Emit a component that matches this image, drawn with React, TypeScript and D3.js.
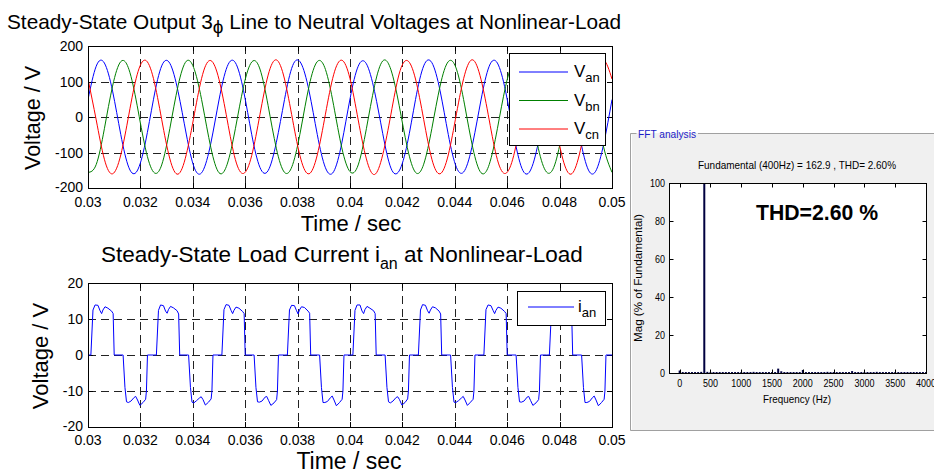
import React, { useEffect, useRef } from 'react';
import * as d3 from 'd3';

// sample times (ms) of the phase voltages, 1/8 period apart
const voltTime = [
  30, 30.3125, 30.625, 30.9375, 31.25, 31.5625, 31.875, 32.1875,
  32.5, 32.8125, 33.125, 33.4375, 33.75, 34.0625, 34.375, 34.6875,
  35, 35.3125, 35.625, 35.9375, 36.25, 36.5625, 36.875, 37.1875,
  37.5, 37.8125, 38.125, 38.4375, 38.75, 39.0625, 39.375, 39.6875,
  40, 40.3125, 40.625, 40.9375, 41.25, 41.5625, 41.875, 42.1875,
  42.5, 42.8125, 43.125, 43.4375, 43.75, 44.0625, 44.375, 44.6875,
  45, 45.3125, 45.625, 45.9375, 46.25, 46.5625, 46.875, 47.1875,
  47.5, 47.8125, 48.125, 48.4375, 48.75, 49.0625, 49.375, 49.6875,
  50
];
const vanValues = [
  49, 143, 152, 73, -49, -143, -152, -73,
  50, 144, 151, 72, -48, -144, -153, -74,
  48, 142, 153, 74, -50, -142, -151, -72,
  49, 145, 152, 73, -49, -143, -154, -73,
  51, 143, 150, 72, -47, -144, -152, -75,
  49, 144, 153, 74, -49, -142, -151, -73,
  48, 143, 152, 73, -50, -145, -152, -72,
  50, 142, 151, 73, -48, -143, -153, -74,
  49
];
const vbnValues = [
  -156, -134, -33, 87, 156, 134, 33, -87,
  -155, -135, -32, 88, 157, 133, 34, -86,
  -157, -133, -33, 86, 155, 135, 32, -88,
  -156, -134, -34, 87, 156, 134, 33, -87,
  -154, -135, -33, 88, 158, 133, 33, -86,
  -156, -133, -32, 87, 156, 135, 34, -87,
  -157, -134, -33, 86, 155, 134, 33, -88,
  -155, -135, -34, 87, 157, 133, 32, -87,
  -156
];
const vcnValues = [
  107, -8, -119, -160, -107, 8, 119, 160,
  108, -7, -118, -161, -106, 9, 120, 159,
  106, -8, -120, -159, -108, 7, 118, 161,
  107, -9, -119, -160, -107, 8, 119, 160,
  108, -8, -118, -162, -106, 8, 121, 159,
  107, -7, -119, -160, -107, 9, 119, 161,
  106, -8, -120, -159, -108, 8, 118, 160,
  107, -8, -119, -161, -107, 7, 119, 160,
  107
];

// load current: start of each period (ms), point times inside a period (ms) and values per period
const ianCycleStart = [30, 32.5, 35, 37.5, 40, 42.5, 45, 47.5];
const ianOffset = [
  0, 0.11, 0.19, 0.27, 0.38, 0.46, 0.52, 0.57, 0.65, 0.76, 0.9, 0.96, 1.0,
  1.34, 1.41, 1.47, 1.54, 1.64, 1.76, 1.82, 1.89, 1.98, 2.1, 2.2, 2.23, 2.27
];
const ianCycles = [
  [0, 0, 12.5, 13.9, 13.8, 12.3, 11.5, 12.5, 13.4, 13.0, 12.2, 11.5, 0, 0, -9, -13, -13.2, -12.8, -11.8, -11.5, -12.5, -14, -13.2, -12.3, -10, 0],
  [0, 0, 12.4, 13.9, 13.7, 12.2, 11.6, 12.6, 13.5, 13.1, 12.3, 11.4, 0, 0, -9, -13.1, -13.3, -12.7, -11.9, -11.6, -12.4, -13.9, -13.1, -12.2, -10, 0],
  [0, 0, 12.6, 14.0, 13.8, 12.4, 11.5, 12.4, 13.3, 13.0, 12.1, 11.5, 0, 0, -9, -13, -13.1, -12.8, -11.7, -11.5, -12.6, -14, -13.3, -12.4, -10, 0],
  [0, 0, 12.5, 13.8, 13.7, 12.3, 11.4, 12.5, 13.4, 13.2, 12.2, 11.6, 0, 0, -9, -13.2, -13.2, -12.9, -11.8, -11.4, -12.5, -14.1, -13.2, -12.3, -10, 0],
  [0, 0, 12.4, 13.9, 13.9, 12.2, 11.5, 12.6, 13.5, 13.0, 12.3, 11.5, 0, 0, -9, -13, -13.3, -12.8, -11.8, -11.6, -12.4, -13.9, -13.2, -12.2, -10, 0],
  [0, 0, 12.5, 14.0, 13.8, 12.3, 11.6, 12.5, 13.4, 13.1, 12.2, 11.4, 0, 0, -9, -13.1, -13.2, -12.7, -11.9, -11.5, -12.5, -14, -13.1, -12.3, -10, 0],
  [0, 0, 12.6, 13.9, 13.7, 12.4, 11.5, 12.4, 13.3, 13.0, 12.1, 11.5, 0, 0, -9, -13, -13.1, -12.8, -11.7, -11.5, -12.6, -14, -13.3, -12.4, -10, 0],
  [0, 0, 12.5, 13.8, 13.8, 12.3, 11.5, 12.5, 13.4, 13.1, 12.2, 11.6, 0, 0, -9, -13.2, -13.2, -12.9, -11.8, -11.4, -12.5, -14.1, -13.2, -12.3, -10, 0]
];
const ianEndTime = 50;
const ianEndValue = 0;

// FFT spectrum, % of fundamental
const fftFreq = [
  0, 50, 100, 150, 200, 250, 300, 350, 400, 450, 500, 550, 600, 650, 700, 750,
  800, 850, 900, 950, 1000, 1050, 1100, 1150, 1200, 1250, 1300, 1350, 1400, 1450, 1500, 1550,
  1600, 1650, 1700, 1750, 1800, 1850, 1900, 1950, 2000, 2050, 2100, 2150, 2200, 2250, 2300, 2350,
  2400, 2450, 2500, 2550, 2600, 2650, 2700, 2750, 2800, 2850, 2900, 2950, 3000, 3050, 3100, 3150,
  3200, 3250, 3300, 3350, 3400, 3450, 3500, 3550, 3600, 3650, 3700, 3750, 3800, 3850, 3900, 3950,
  4000
];
const fftMag = [
  1.3, 0.5, 0.5, 0.5, 0.5, 0.5, 0.5, 0.6, 100, 0.6, 0.5, 0.5, 0.5, 0.5, 0.5, 0.5,
  0.5, 0.5, 0.5, 0.5, 0.5, 0.5, 0.5, 0.5, 0.6, 0.5, 0.5, 0.5, 0.5, 0.5, 0.5, 0.5,
  2.3, 0.9, 0.5, 0.5, 0.5, 0.5, 0.5, 0.5, 1.6, 0.5, 0.5, 0.5, 0.5, 0.5, 0.5, 0.5,
  0.6, 0.5, 0.5, 0.5, 0.5, 0.5, 0.5, 0.5, 1.0, 0.5, 0.5, 0.5, 0.5, 0.5, 0.5, 0.5,
  0.6, 0.5, 0.5, 0.5, 0.5, 0.5, 0.5, 0.5, 0.5, 0.5, 0.5, 0.5, 0.5, 0.5, 0.5, 0.5,
  0.5
];

const timeTicks = [30, 32, 34, 36, 38, 40, 42, 44, 46, 48, 50];
const timeLabels = ['0.03', '0.032', '0.034', '0.036', '0.038', '0.04', '0.042', '0.044', '0.046', '0.048', '0.05'];
const voltTicks = [-200, -100, 0, 100, 200];
const currTicks = [-20, -10, 0, 10, 20];
const freqTicks = [0, 500, 1000, 1500, 2000, 2500, 3000, 3500, 4000];
const magTicks = [0, 20, 40, 60, 80, 100];

const FONT = 'Liberation Sans, Arial, sans-serif';

function App() {
  const ref = useRef<SVGSVGElement>(null);

  useEffect(() => {
    const svg = d3.select(ref.current);
    svg.selectAll('*').remove();

    svg.append('rect').attr('width', 934).attr('height', 474).attr('fill', '#fff');

    // MATLAB style box: dashed grid, ticks inside on every side
    function frame(x: any, y: any, xt: number[], yt: number[], xl: string[], yl: string[], xLabelY: number) {
      const [x0, x1] = x.range();
      const [y0, y1] = y.range(); // y0 bottom, y1 top
      const g = svg.append('g');
      xt.slice(1, -1).forEach(t => {
        g.append('line').attr('x1', Math.round(x(t)) + 0.5).attr('x2', Math.round(x(t)) + 0.5)
          .attr('y1', y1).attr('y2', y0).attr('stroke', '#222').attr('stroke-dasharray', '8,5');
      });
      yt.slice(1, -1).forEach(t => {
        g.append('line').attr('y1', Math.round(y(t)) + 0.5).attr('y2', Math.round(y(t)) + 0.5)
          .attr('x1', x0).attr('x2', x1).attr('stroke', '#222').attr('stroke-dasharray', '8,5');
      });
      xt.forEach((t, i) => {
        const px = Math.round(x(t)) + 0.5;
        g.append('line').attr('x1', px).attr('x2', px).attr('y1', y0).attr('y2', y0 - 5).attr('stroke', '#000');
        g.append('line').attr('x1', px).attr('x2', px).attr('y1', y1).attr('y2', y1 + 5).attr('stroke', '#000');
        g.append('text').attr('x', x(t)).attr('y', xLabelY).attr('text-anchor', 'middle')
          .attr('font-family', FONT).attr('font-size', 14).text(xl[i]);
      });
      yt.forEach((t, i) => {
        const py = Math.round(y(t)) + 0.5;
        g.append('line').attr('y1', py).attr('y2', py).attr('x1', x0).attr('x2', x0 + 5).attr('stroke', '#000');
        g.append('line').attr('y1', py).attr('y2', py).attr('x1', x1).attr('x2', x1 - 5).attr('stroke', '#000');
        g.append('text').attr('x', x0 - 5).attr('y', y(t) + (i === 0 ? 3.5 : 5)).attr('text-anchor', 'end')
          .attr('font-family', FONT).attr('font-size', 14).text(yl[i]);
      });
      return g;
    }

    function border(x: any, y: any) {
      const [x0, x1] = x.range();
      const [y0, y1] = y.range();
      svg.append('rect').attr('x', x0 + 0.5).attr('y', y1 + 0.5).attr('width', x1 - x0).attr('height', y0 - y1)
        .attr('fill', 'none').attr('stroke', '#000');
    }

    // text with a subscript, optionally followed by more text on the base line
    function subText(x: number, y: number, main: string, sub: string, size: number, subSize: number, after = '') {
      const t = svg.append('text').attr('x', x).attr('y', y).attr('font-family', FONT).attr('font-size', size);
      t.append('tspan').text(main);
      t.append('tspan').attr('font-size', subSize).attr('dy', size * 0.3).text(sub);
      if (after) t.append('tspan').attr('dy', -size * 0.3).text(after);
      return t;
    }

    // ---------- top: phase voltages ----------
    const xTop = d3.scaleLinear().domain([30, 50]).range([88, 612]);
    const yTop = d3.scaleLinear().domain([-200, 200]).range([188, 46]);
    frame(xTop, yTop, timeTicks, voltTicks, timeLabels, voltTicks.map(String), 206.5);

    const vLine = d3.line<number>()
      .x((_, i) => xTop(voltTime[i]))
      .y(d => yTop(d))
      .curve(d3.curveNatural);
    const clipTop = svg.append('clipPath').attr('id', 'clipTop');
    clipTop.append('rect').attr('x', 88).attr('y', 46).attr('width', 524).attr('height', 142);
    const series = [
      { vals: vanValues, color: '#0000ff', sub: 'an' },
      { vals: vbnValues, color: '#008000', sub: 'bn' },
      { vals: vcnValues, color: '#ff0000', sub: 'cn' }
    ];
    series.forEach(s => {
      svg.append('path').attr('d', vLine(s.vals)).attr('fill', 'none').attr('stroke', s.color)
        .attr('stroke-width', 1).attr('clip-path', 'url(#clipTop)');
    });
    border(xTop, yTop);

    // legend
    svg.append('rect').attr('x', 509.5).attr('y', 53.5).attr('width', 96).attr('height', 92)
      .attr('fill', '#fff').attr('stroke', '#000');
    series.forEach((s, i) => {
      const ly = 72 + i * 28.5;
      svg.append('line').attr('x1', 519).attr('x2', 568).attr('y1', ly).attr('y2', ly).attr('stroke', s.color);
      subText(574, ly + 5, 'V', s.sub, 17, 13);
    });

    // title
    const t1 = svg.append('text').attr('x', 7).attr('y', 29).attr('font-family', FONT).attr('font-size', 20.8);
    t1.append('tspan').text('Steady-State Output 3');
    t1.append('tspan').attr('font-size', 19).attr('dy', 4).text('\u03d5');
    t1.append('tspan').attr('dy', -4).text(' Line to Neutral Voltages at Nonlinear-Load');

    svg.append('text').attr('x', 351).attr('y', 231).attr('text-anchor', 'middle')
      .attr('font-family', FONT).attr('font-size', 22).text('Time / sec');
    svg.append('text').attr('transform', 'translate(40,118) rotate(-90)').attr('text-anchor', 'middle')
      .attr('font-family', FONT).attr('font-size', 21.5).text('Voltage / V');

    // ---------- bottom: load current ----------
    const yBot = d3.scaleLinear().domain([-20, 20]).range([427, 283]);
    frame(xTop, yBot, timeTicks, currTicks, timeLabels, currTicks.map(String), 445);

    const ianPoints: [number, number][] = [];
    ianCycleStart.forEach((c, k) => {
      ianOffset.forEach((o, j) => ianPoints.push([c + o, ianCycles[k][j]]));
    });
    ianPoints.push([ianEndTime, ianEndValue]);
    const iLine = d3.line<[number, number]>().x(d => xTop(d[0])).y(d => yBot(d[1]));
    svg.append('path').attr('d', iLine(ianPoints)).attr('fill', 'none').attr('stroke', '#0000ff').attr('stroke-width', 1);
    border(xTop, yBot);

    svg.append('rect').attr('x', 517.5).attr('y', 291.5).attr('width', 88).attr('height', 34)
      .attr('fill', '#fff').attr('stroke', '#000');
    svg.append('line').attr('x1', 528).attr('x2', 574).attr('y1', 307).attr('y2', 307).attr('stroke', '#0000ff');
    subText(578, 312, 'i', 'an', 17, 13);

    subText(101, 262, 'Steady-State Load Current i', 'an', 22.5, 16, ' at Nonlinear-Load');

    svg.append('text').attr('x', 349).attr('y', 469).attr('text-anchor', 'middle')
      .attr('font-family', FONT).attr('font-size', 23).text('Time / sec');
    svg.append('text').attr('transform', 'translate(48,356) rotate(-90)').attr('text-anchor', 'middle')
      .attr('font-family', FONT).attr('font-size', 22).text('Voltage / V');

    // ---------- FFT analysis panel ----------
    svg.append('rect').attr('x', 630).attr('y', 133).attr('width', 304).attr('height', 298).attr('fill', '#f0f0f0');
    svg.append('path').attr('d', 'M636.5,133.5 H630.5 V430.5 H934').attr('fill', 'none').attr('stroke', '#a0a0a0');
    svg.append('path').attr('d', 'M698,133.5 H934').attr('fill', 'none').attr('stroke', '#a0a0a0');
    svg.append('path').attr('d', 'M631.5,134.5 V429.5 M631.5,431.5 H934').attr('fill', 'none').attr('stroke', '#fff');
    svg.append('text').attr('x', 638).attr('y', 138).attr('font-family', FONT).attr('font-size', 11)
      .attr('fill', '#1c1cc8').attr('textLength', 58).attr('lengthAdjust', 'spacingAndGlyphs').text('FFT analysis');

    const xF = d3.scaleLinear().domain([-173, 4000]).range([669, 926]);
    const yF = d3.scaleLinear().domain([0, 100]).range([373, 183]);
    svg.append('rect').attr('x', 669).attr('y', 183).attr('width', 257).attr('height', 190).attr('fill', '#fff');

    svg.selectAll('.fftbar').data(fftMag).enter().append('rect')
      .attr('class', 'fftbar')
      .attr('x', (_, i) => xF(fftFreq[i]) - 1)
      .attr('width', 2)
      .attr('y', d => yF(d))
      .attr('height', d => yF(0) - yF(d))
      .attr('fill', '#000040');

    svg.append('rect').attr('x', 669.5).attr('y', 183.5).attr('width', 257).attr('height', 190)
      .attr('fill', 'none').attr('stroke', '#000');
    freqTicks.forEach(f => {
      const px = Math.round(xF(f)) + 0.5;
      svg.append('line').attr('x1', px).attr('x2', px).attr('y1', 373.5).attr('y2', 369.5).attr('stroke', '#000');
      svg.append('line').attr('x1', px).attr('x2', px).attr('y1', 183.5).attr('y2', 187.5).attr('stroke', '#000');
      const lab = String(f);
      svg.append('text').attr('x', xF(f)).attr('y', 387).attr('text-anchor', 'middle')
        .attr('font-family', FONT).attr('font-size', 11)
        .attr('textLength', lab.length * 5).attr('lengthAdjust', 'spacingAndGlyphs').text(lab);
    });
    magTicks.forEach(m => {
      const py = Math.round(yF(m)) + 0.5;
      svg.append('line').attr('y1', py).attr('y2', py).attr('x1', 669.5).attr('x2', 673.5).attr('stroke', '#000');
      svg.append('line').attr('y1', py).attr('y2', py).attr('x1', 926.5).attr('x2', 922.5).attr('stroke', '#000');
      const lab = String(m);
      svg.append('text').attr('x', 665).attr('y', yF(m) + 4).attr('text-anchor', 'end')
        .attr('font-family', FONT).attr('font-size', 11)
        .attr('textLength', lab.length * 5).attr('lengthAdjust', 'spacingAndGlyphs').text(lab);
    });

    svg.append('text').attr('x', 797).attr('y', 169).attr('text-anchor', 'middle')
      .attr('font-family', FONT).attr('font-size', 11)
      .attr('textLength', 198).attr('lengthAdjust', 'spacingAndGlyphs')
      .text('Fundamental (400Hz) = 162.9 , THD= 2.60%');
    svg.append('text').attr('x', 797).attr('y', 403).attr('text-anchor', 'middle')
      .attr('font-family', FONT).attr('font-size', 11)
      .attr('textLength', 68).attr('lengthAdjust', 'spacingAndGlyphs').text('Frequency (Hz)');
    svg.append('text').attr('transform', 'translate(642,278) rotate(-90)').attr('text-anchor', 'middle')
      .attr('font-family', FONT).attr('font-size', 11)
      .attr('textLength', 128).attr('lengthAdjust', 'spacingAndGlyphs').text('Mag (% of Fundamental)');
    svg.append('text').attr('x', 756).attr('y', 220).attr('font-family', FONT).attr('font-size', 22)
      .attr('font-weight', 'bold').attr('textLength', 122).attr('lengthAdjust', 'spacingAndGlyphs')
      .text('THD=2.60 %');
  }, []);

  return (
    <svg ref={ref} width={934} height={474}
      style={{ position: 'absolute', left: 0, top: 0, display: 'block' }} />
  );
}

export default App;
